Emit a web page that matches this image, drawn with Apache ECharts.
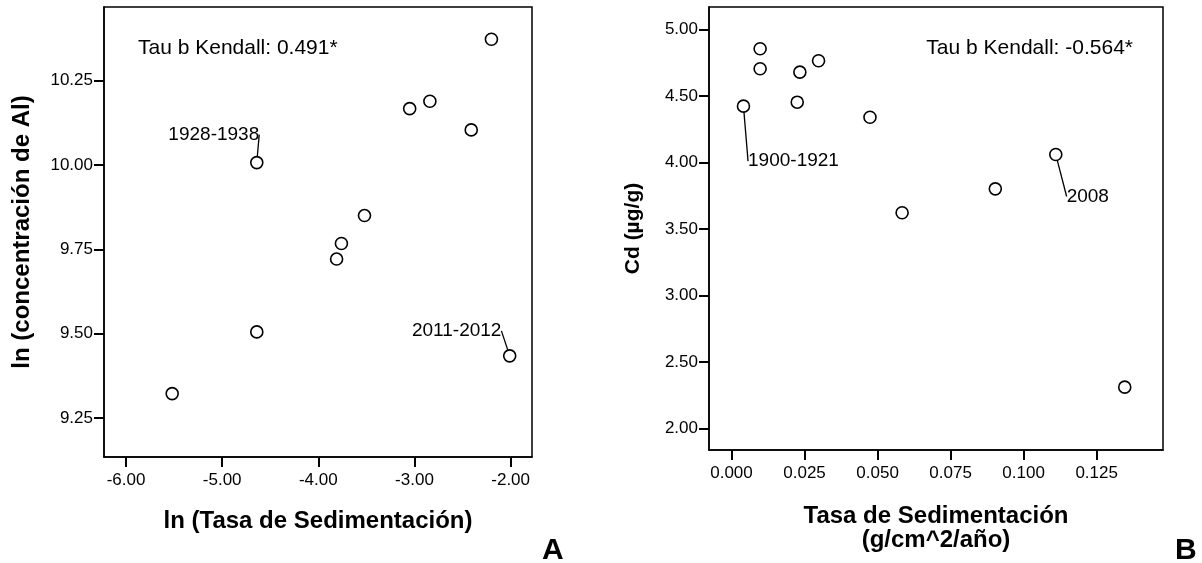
<!DOCTYPE html>
<html>
<head>
<meta charset="utf-8">
<script src="https://cdn.jsdelivr.net/npm/echarts@6/dist/echarts.min.js"></script>
<style>
  html, body { margin: 0; padding: 0; background: #fff; }
  #main { width: 1202px; height: 563px; }
</style>
</head>
<body>
<div id="main"></div>
<script>
// panel A: ln(tasa de sedimentacion) vs ln(Al)
const xTicksA = [-6, -5, -4, -3, -2];
const yTicksA = [9.25, 9.5, 9.75, 10, 10.25];
const lnTasa = [-5.52, -4.64, -4.64, -3.81, -3.76, -3.52, -3.05, -2.84, -2.41, -2.20, -2.01];
const lnAl = [9.322, 9.505, 10.007, 9.721, 9.767, 9.850, 10.167, 10.189, 10.104, 10.373, 9.434];
const tagsA = { 2: "1928-1938", 10: "2011-2012" };

// panel B: tasa de sedimentacion vs Cd
const xTicksB = [0, 0.025, 0.05, 0.075, 0.1, 0.125];
const yTicksB = [2, 2.5, 3, 3.5, 4, 4.5, 5];
const tasa = [0.0041, 0.0098, 0.0098, 0.0225, 0.0234, 0.0298, 0.0474, 0.0584, 0.0903, 0.111, 0.1346];
const cd = [4.423, 4.854, 4.704, 4.453, 4.679, 4.764, 4.340, 3.622, 3.802, 4.060, 2.312];
const tagsB = { 0: "1900-1921", 9: "2008" };

const FONT = "Liberation Sans, Arial, sans-serif";
const BLACK = "#000";

// label offsets (px) from point centre
const shiftA = { 2: [-43, -28], 10: [-53, -25] };
const shiftB = { 0: [50, 55], 9: [32, 42] };

function pts(xs, ys, tags) {
  return xs.map((x, i) => {
    const item = { value: [x, ys[i]] };
    if (tags[i]) {
      item.label = { show: true, formatter: tags[i], position: "inside",
        color: BLACK, textBorderWidth: 0, fontSize: 19, fontFamily: FONT };
      item.labelLine = { show: true };
    }
    return item;
  });
}

function xAxisCfg(grid, min, max, ticks, dec, name, gap) {
  return {
    type: "value", gridIndex: grid, min: min, max: max,
    name: name, nameLocation: "middle", nameGap: gap,
    nameTextStyle: { color: BLACK, fontSize: 24, fontWeight: "bold", fontFamily: FONT, lineHeight: 24 },
    axisLine: { show: true, onZero: false, lineStyle: { color: BLACK, width: 1.5 } },
    axisTick: { show: true, inside: false, length: 10, customValues: ticks, lineStyle: { color: BLACK, width: 2 } },
    axisLabel: { color: BLACK, fontSize: 17, fontFamily: FONT, margin: 15, customValues: ticks,
      formatter: v => v.toFixed(dec) },
    splitLine: { show: false }
  };
}

function yAxisCfg(grid, min, max, ticks, name, gap, nameSize) {
  return {
    type: "value", gridIndex: grid, min: min, max: max,
    name: name, nameLocation: "middle", nameGap: gap,
    nameTextStyle: { color: BLACK, fontSize: nameSize, fontWeight: "bold", fontFamily: FONT },
    axisLine: { show: true, onZero: false, lineStyle: { color: BLACK, width: 1.5 } },
    axisTick: { show: true, inside: false, length: 10, customValues: ticks, lineStyle: { color: BLACK, width: 2 } },
    axisLabel: { color: BLACK, fontSize: 17, fontFamily: FONT, margin: 11, customValues: ticks,
      formatter: v => v.toFixed(2) },
    splitLine: { show: false }
  };
}

function scatter(idx, data, shift) {
  return {
    type: "scatter", xAxisIndex: idx, yAxisIndex: idx,
    data: data,
    symbol: "circle", symbolSize: 12,
    itemStyle: { color: "#fff", borderColor: BLACK, borderWidth: 1.6, opacity: 1 },
    label: { color: BLACK, fontSize: 19, fontFamily: FONT, textBorderWidth: 0 },
    labelLine: { lineStyle: { color: BLACK, width: 1.3, opacity: 1 } },
    labelLayout: p => shift[p.dataIndex] ? { dx: shift[p.dataIndex][0], dy: shift[p.dataIndex][1] } : {},
    emphasis: { disabled: true },
    silent: true
  };
}

const chart = echarts.init(document.getElementById("main"));
chart.setOption({
  animation: false,
  backgroundColor: "#fff",
  textStyle: { fontFamily: FONT },
  title: [
    { text: "Tau b Kendall: 0.491*", left: 133, top: 33,
      textStyle: { fontSize: 21, fontWeight: "normal", color: BLACK, fontFamily: FONT } },
    { text: "Tau b Kendall: -0.564*", right: 64, top: 33,
      textStyle: { fontSize: 21, fontWeight: "normal", color: BLACK, fontFamily: FONT } },
    { text: "A", left: 537, top: 531,
      textStyle: { fontSize: 30, fontWeight: "bold", color: BLACK, fontFamily: FONT } },
    { text: "B", left: 1170, top: 531,
      textStyle: { fontSize: 30, fontWeight: "bold", color: BLACK, fontFamily: FONT } }
  ],
  grid: [
    { left: 104, top: 7, width: 428, height: 450, show: true, borderColor: BLACK, borderWidth: 1.5, backgroundColor: "#fff" },
    { left: 709, top: 7, width: 454, height: 443, show: true, borderColor: BLACK, borderWidth: 1.5, backgroundColor: "#fff" }
  ],
  xAxis: [
    xAxisCfg(0, -6.229, -1.778, xTicksA, 2, "ln (Tasa de Sedimentación)", 52),
    xAxisCfg(1, -0.0077, 0.1477, xTicksB, 3, "Tasa de Sedimentación\n(g/cm^2/año)", 54)
  ],
  yAxis: [
    yAxisCfg(0, 9.134, 10.4685, yTicksA, "ln (concentración de Al)", 70, 24),
    yAxisCfg(1, 1.84, 5.168, yTicksB, "Cd (µg/g)", 65, 21)
  ],
  series: [
    scatter(0, pts(lnTasa, lnAl, tagsA), shiftA),
    scatter(1, pts(tasa, cd, tagsB), shiftB)
  ]
});
</script>
</body>
</html>
